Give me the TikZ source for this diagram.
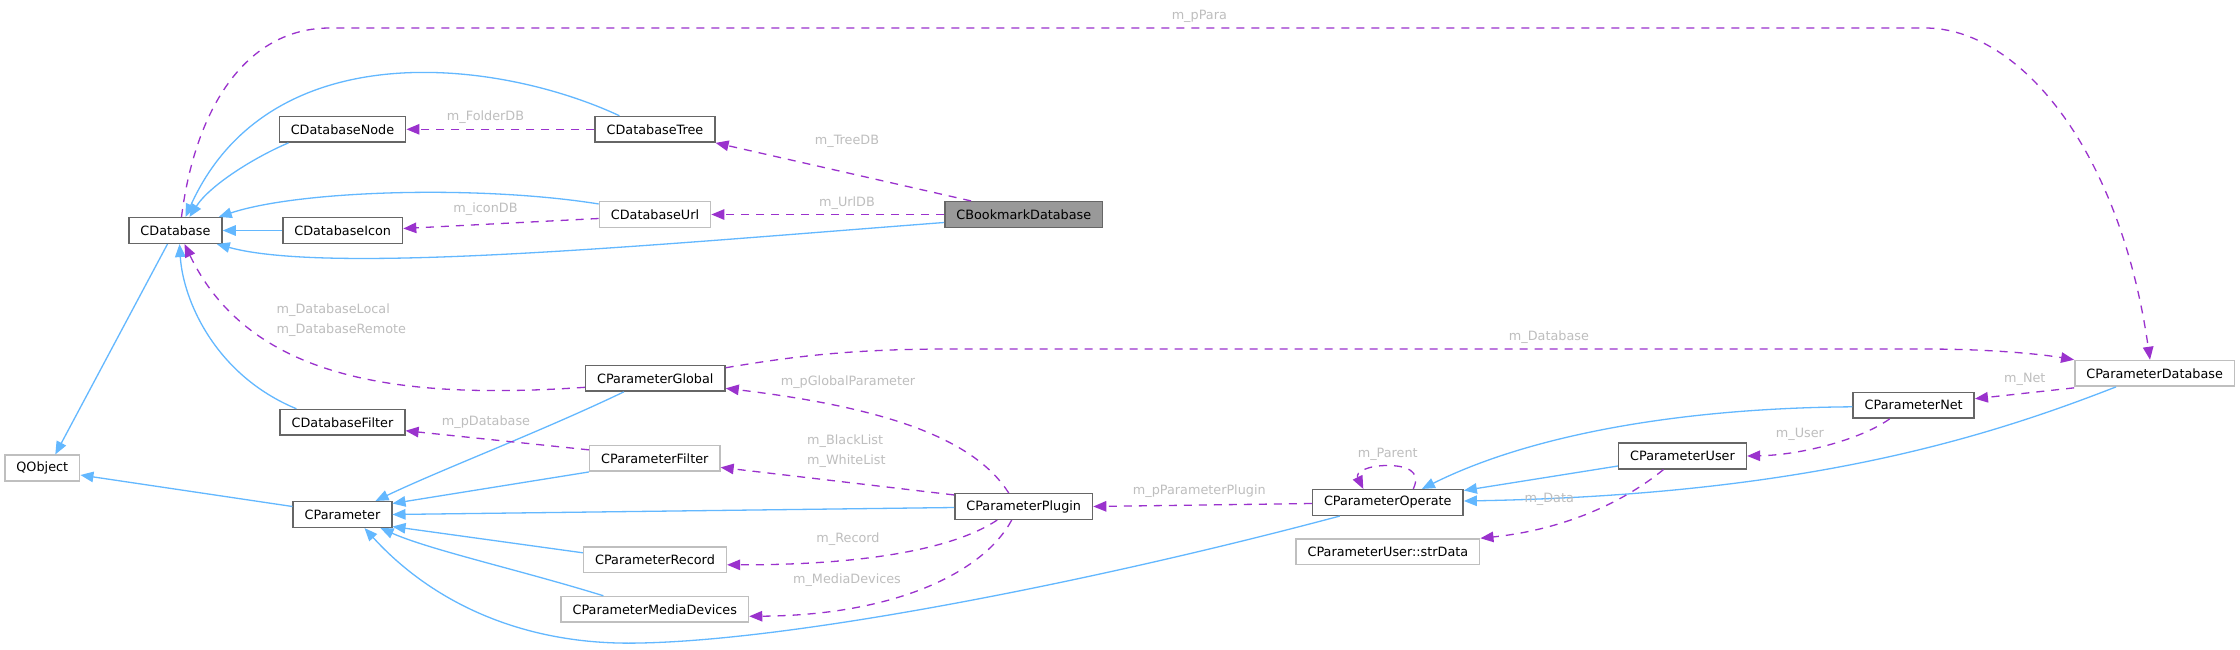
\documentclass[tikz,border=0pt]{standalone}
\usepackage{fontspec}
\setmainfont{DejaVu Sans}
\usetikzlibrary{calc,arrows.meta}
\definecolor{inhblue}{HTML}{63B8FF}
\definecolor{usepurple}{HTML}{9A32CD}
\definecolor{darkframe}{HTML}{666666}
\definecolor{lightframe}{HTML}{BFBFBF}
\definecolor{labelgrey}{HTML}{BEBEBE}
\definecolor{curfill}{HTML}{999999}
\tikzset{
  cls/.style={draw=darkframe, fill=white, line width=1.5pt, minimum height=25.6pt,
    inner xsep=11.5pt, inner ysep=0pt, font=\fontsize{12.8}{15}\selectfont},
  ext/.style={cls, draw=lightframe},
  cur/.style={cls, fill=curfill},
  inhline/.style={color=inhblue, line width=1.3pt, -{Triangle[length=13pt,width=10.5pt]}},
  memline/.style={color=usepurple, line width=1.3pt, dash pattern=on 8pt off 7pt,
    -{Triangle[length=13pt,width=10.5pt]}},
  lbl/.style={text=labelgrey, inner sep=0pt, font=\fontsize{12.8}{20}\selectfont},
}

\begin{document}
\begin{tikzpicture}[x=1pt,y=-1pt]
        \fill[white] (0,0) rectangle (2240,649);
        \useasboundingbox (0,0) rectangle (2240,649);
        % classes
        \node[cls] (CDatabase) at (175.5,230.5) {CDatabase};
        \node[cls] (CDatabaseNode) at (342.5,129.3) {CDatabaseNode};
        \node[cls] (CDatabaseTree) at (655,129.3) {CDatabaseTree};
        \node[ext] (CDatabaseUrl) at (655,214.5) {CDatabaseUrl};
        \node[cls] (CDatabaseIcon) at (342.7,230.5) {CDatabaseIcon};
        \node[cur] (CBookmarkDatabase) at (1023.8,214.5) {CBookmarkDatabase};
        \node[ext] (QObject) at (42.3,468) {QObject};
        \node[cls] (CDatabaseFilter) at (342.5,422.3) {CDatabaseFilter};
        \node[cls] (CParameterGlobal) at (655.3,378.3) {CParameterGlobal};
        \node[ext] (CParameterFilter) at (654.8,458.4) {CParameterFilter};
        \node[cls] (CParameter) at (342.5,514.5) {CParameter};
        \node[ext] (CParameterRecord) at (655,559.8) {CParameterRecord};
        \node[ext] (CParameterMediaDevices) at (654.8,609.3) {CParameterMediaDevices};
        \node[cls] (CParameterPlugin) at (1023.7,506.5) {CParameterPlugin};
        \node[cls] (CParameterOperate) at (1387.8,502.5) {CParameterOperate};
        \node[cls] (CParameterUser) at (1682.5,456) {CParameterUser};
        \node[ext] (strData) at (1387.9,551.8) {CParameterUser::strData};
        \node[cls] (CParameterNet) at (1913.7,405.3) {CParameterNet};
        \node[ext] (CParameterDatabase) at (2154.6,373.3) {CParameterDatabase};
        % inheritance
        \draw[inhline] ($(CDatabaseNode.south west)+(10,0)$) .. controls (255,157) and (210,185) .. ($(CDatabase.north)+(14,0)$);
        \draw[inhline] ($(CDatabaseTree.north west)+(25,0)$) .. controls (500,60) and (270,30) .. ($(CDatabase.north)+(10,0)$);
        \draw[inhline] ($(CDatabaseUrl.north west)+(0,3)$) .. controls (480,185) and (300,190) .. ($(CDatabase.north east)+(-4,0)$);
        \draw[inhline] (CDatabaseIcon.west) -- (CDatabase.east);
        \draw[inhline] ($(CBookmarkDatabase.west)+(0,8)$) .. controls (650,245) and (330,275) .. ($(CDatabase.south east)+(-6,0)$);
        \draw[inhline] ($(CDatabaseFilter.north west)+(17,0)$) .. controls (215,375) and (183,300) .. ($(CDatabase.south)+(4,0)$);
        \draw[inhline] ($(CDatabase.south)+(-8,0)$) -- ($(QObject.north)+(13,0)$);
        \draw[inhline] ($(CParameter.west)+(0,-8)$) -- ($(QObject.east)+(0,7)$);
        \draw[inhline] ($(CParameterGlobal.south west)+(39,0)$) .. controls (540,432) and (440,470) .. ($(CParameter.north east)+(-17,0)$);
        \draw[inhline] (CParameterFilter.south west) -- ($(CParameter.east)+(0,-11)$);
        \draw[inhline] ($(CParameterPlugin.west)+(0,1)$) -- (CParameter.east);
        \draw[inhline] ($(CParameterRecord.west)+(0,-7)$) -- ($(CParameter.east)+(0,12)$);
        \draw[inhline] ($(CParameterMediaDevices.north west)+(43,0)$) .. controls (520,570) and (430,550) .. ($(CParameter.south)+(38,0)$);
        \draw[inhline] ($(CParameterOperate.south west)+(28,0)$) .. controls (1100,580) and (800,640) .. (640,643) .. controls (520,646) and (430,600) .. ($(CParameter.south)+(22,0)$);
        \draw[inhline] ($(CParameterUser.west)+(0,10)$) -- ($(CParameterOperate.east)+(0,-12)$);
        \draw[inhline] ($(CParameterNet.west)+(0,1.5)$) .. controls (1680,408) and (1530,435) .. ($(CParameterOperate.north east)+(-42,0)$);
        \draw[inhline] ($(CParameterDatabase.south west)+(42,0)$) .. controls (1980,440) and (1800,495) .. ($(CParameterOperate.east)+(0,-1.5)$);
        % members
        \draw[memline] ($(CBookmarkDatabase.north west)+(27,0)$) -- (CDatabaseTree.south east);
        \draw[memline] (CBookmarkDatabase.west) -- (CDatabaseUrl.east);
        \draw[memline] (CDatabaseTree.west) -- (CDatabaseNode.east);
        \draw[memline] ($(CDatabaseUrl.west)+(0,4)$) -- ($(CDatabaseIcon.east)+(0,-2)$);
        \draw[memline] ($(CDatabase.north)+(6,0)$) .. controls (195,110) and (245,28) .. (330,28) -- (1925,28) .. controls (2020,28) and (2120,150) .. ($(CParameterDatabase.north)+(-4.6,0)$);
        \draw[memline] ($(CParameterGlobal.west)+(0,9)$) .. controls (400,400) and (250,380) .. ($(CDatabase.south)+(9,0)$);
        \draw[memline] ($(CParameterGlobal.north east)+(0,3)$) .. controls (800,355) and (860,349) .. (950,349) -- (1925,349) .. controls (1990,349) and (2040,354) .. (CParameterDatabase.north west);
        \draw[memline] ($(CParameterFilter.north west)+(0,5)$) -- ($(CDatabaseFilter.east)+(0,8.4)$);
        \draw[memline] ($(CParameterPlugin.north)+(-15,0)$) .. controls (975,440) and (890,408) .. ($(CParameterGlobal.east)+(0,10)$);
        \draw[memline] ($(CParameterPlugin.north west)+(0,2)$) -- ($(CParameterFilter.east)+(0,9)$);
        \draw[memline] ($(CParameterPlugin.south)+(-26.5,0)$) .. controls (960,545) and (880,565) .. ($(CParameterRecord.east)+(0,5)$);
        \draw[memline] ($(CParameterPlugin.south)+(-12,0)$) .. controls (985,570) and (900,615) .. ($(CParameterMediaDevices.east)+(0,7)$);
        \draw[memline] ($(CParameterOperate.west)+(0,1)$) -- (CParameterPlugin.east);
        \draw[memline] ($(CParameterOperate.north)+(25.5,0)$) .. controls (1422,470) and (1405,465.5) .. (1387,465.5) .. controls (1368,465.5) and (1355,472) .. ($(CParameterOperate.north)+(-24.5,0)$);
        \draw[memline] ($(CParameterUser.south)+(-19,0)$) .. controls (1620,505) and (1560,530) .. (strData.north east);
        \draw[memline] ($(CParameterNet.south)+(-24,0)$) .. controls (1860,440) and (1800,455) .. (CParameterUser.east);
        \draw[memline] ($(CParameterDatabase.south west)+(0,1)$) -- ($(CParameterNet.east)+(0,-6.6)$);
        % member names
        \node[lbl] (lTreeDB) at (847,141.7) {m\_TreeDB};
        \node[lbl] (lUrlDB) at (847,202.7) {m\_UrlDB};
        \node[lbl] (lFolderDB) at (485.5,117.3) {m\_FolderDB};
        \node[lbl] (lIconDB) at (485.5,209.3) {m\_iconDB};
        \node[lbl] (lPara) at (1199.3,16.7) {m\_pPara};
        \node[lbl, align=left, anchor=west] (lDbLocal) at (276.5,320.3) {m\_DatabaseLocal\\m\_DatabaseRemote};
        \node[lbl] (lDatabase) at (1548.9,337.3) {m\_Database};
        \node[lbl] (lPDatabase) at (486,421.7) {m\_pDatabase};
        \node[lbl] (lGlobal) at (848,381.7) {m\_pGlobalParameter};
        \node[lbl, align=left, anchor=west] (lLists) at (807,450.7) {m\_BlackList\\m\_WhiteList};
        \node[lbl] (lRecord) at (848,539) {m\_Record};
        \node[lbl] (lMedia) at (847,580) {m\_MediaDevices};
        \node[lbl] (lPlugin) at (1199.3,490.7) {m\_pParameterPlugin};
        \node[lbl] (lParent) at (1387.7,454.3) {m\_Parent};
        \node[lbl] (lData) at (1549.2,499.3) {m\_Data};
        \node[lbl] (lUser) at (1799.9,434.7) {m\_User};
        \node[lbl] (lNet) at (2024.8,379) {m\_Net};
\end{tikzpicture}
\end{document}
